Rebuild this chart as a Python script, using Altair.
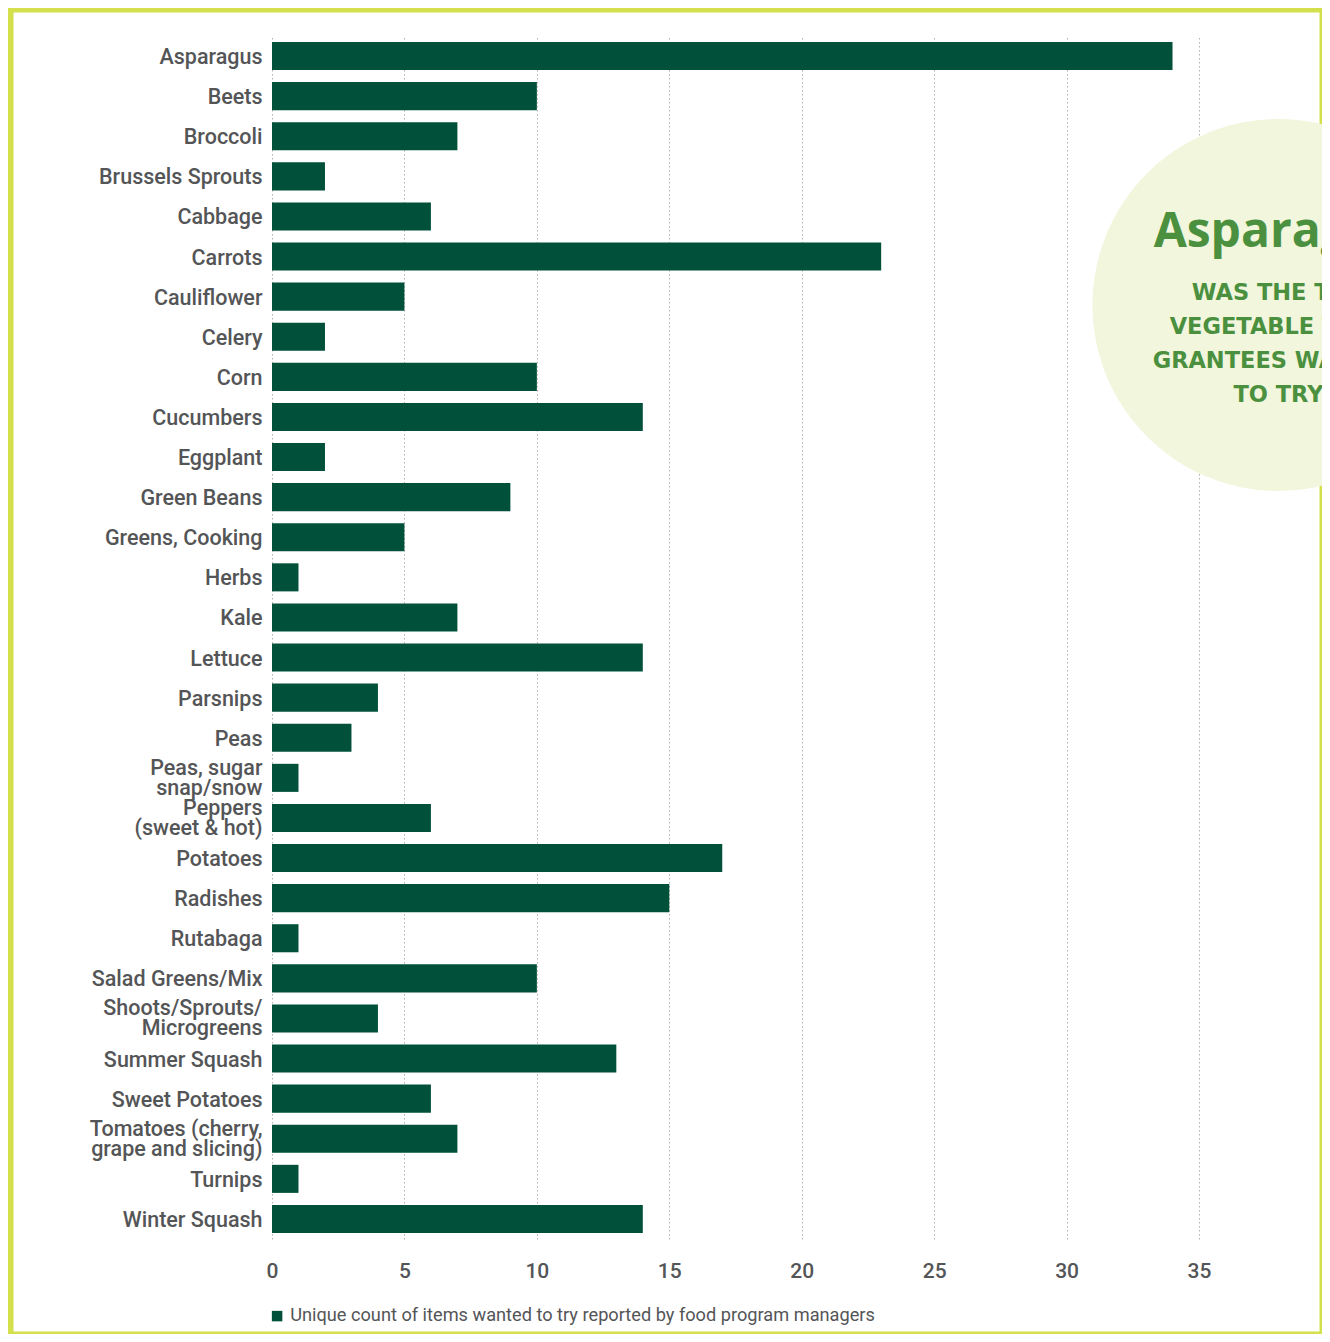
import altair as alt
import pandas as pd

vegetables = [
    "Asparagus", "Beets", "Broccoli", "Brussels Sprouts", "Cabbage", "Carrots",
    "Cauliflower", "Celery", "Corn", "Cucumbers", "Eggplant", "Green Beans",
    "Greens, Cooking", "Herbs", "Kale", "Lettuce", "Parsnips", "Peas",
    "Peas, sugar \nsnap/snow", "Peppers \n(sweet & hot)", "Potatoes", "Radishes",
    "Rutabaga", "Salad Greens/Mix", "Shoots/Sprouts/\nMicrogreens", "Summer Squash",
    "Sweet Potatoes", "Tomatoes (cherry,\ngrape and slicing)", "Turnips", "Winter Squash",
]
counts = [34, 10, 7, 2, 6, 23, 5, 2, 10, 14, 2, 9, 5, 1, 7, 14, 4, 3, 1, 6,
          17, 15, 1, 10, 4, 13, 6, 7, 1, 14]
series_name = "Unique count of items wanted to try reported by food program managers"
x_ticks = [0, 5, 10, 15, 20, 25, 30, 35]

callout_head = "Asparagus"
callout_lines = ["WAS THE TOP", "VEGETABLE THAT", "GRANTEES WANTED", "TO TRY"]
callout_x = [38]

BAR = "#00503a"
FRAME = "#d3df4b"
CIRCLE = "#f1f6dc"
CALLOUT = "#4b903f"
LABEL = "#545557"

W, H = 927, 1203
PL, PT, PR, PB = 264, 28, 123, 95

df = pd.DataFrame({"veg": vegetables, "count": counts, "series": series_name})

bars = alt.Chart(df).mark_bar(color=BAR).encode(
    x=alt.X("count:Q",
            scale=alt.Scale(domain=[0, 35], nice=False),
            axis=alt.Axis(values=x_ticks, grid=True, gridDash=[1.5, 2.5],
                          gridColor="#b0b0b0", gridWidth=1, domain=False,
                          ticks=False, labelFontSize=21, labelFont="Roboto",
                          labelFontWeight=500, labelFlush=False,
                          labelColor=LABEL, labelPadding=21, title=None)),
    y=alt.Y("veg:N", sort=vegetables,
            scale=alt.Scale(paddingInner=0.3, paddingOuter=0.15),
            axis=alt.Axis(title=None, domain=False, ticks=False,
                          labelExpr="split(datum.label, '\\n')",
                          labelLineHeight=20, labelPadding=10,
                          labelOffset={"condition": {"test": "indexof(datum.value, '\\n') >= 0",
                                                     "value": -9},
                                       "value": 2},
                          labelFontSize=21.5, labelFont="Roboto",
                          labelFontWeight=500,
                          labelColor=LABEL, labelLimit=400)),
    color=alt.Color("series:N", scale=alt.Scale(range=[BAR]),
                    legend=alt.Legend(orient="none", legendX=-4, legendY=1271,
                                      title=None, symbolType="square",
                                      symbolSize=110, symbolStrokeWidth=0,
                                      labelFontSize=18.2, labelFont="Roboto",
                                      labelColor=LABEL, labelOffset=4,
                                      labelLimit=1000)),
)

frame = alt.Chart(pd.DataFrame({"a": [0]})).mark_rect(
    fillOpacity=0, stroke=FRAME, strokeWidth=9
).encode(
    x=alt.value(-PL + 1), x2=alt.value(W + PR + 2),
    y=alt.value(-PT), y2=alt.value(H + PB + 2),
)

cdf = pd.DataFrame({"cx": callout_x, "head": [callout_head],
                    "body": ["\n".join(callout_lines)]})

circle = alt.Chart(cdf).mark_circle(size=372 * 372, color=CIRCLE, opacity=1).encode(
    x="cx:Q", y=alt.value(269)
)

head = alt.Chart(cdf).mark_text(
    font="Open Sans", fontWeight="bold", fontSize=48, color=CALLOUT,
    align="center", baseline="alphabetic"
).encode(x="cx:Q", y=alt.value(211), text="head:N")

body = alt.Chart(cdf).mark_text(
    font="DejaVu Sans", fontWeight="bold", fontSize=22.5, color=CALLOUT,
    align="center", baseline="middle", lineBreak="\n", lineHeight=34
).encode(x="cx:Q", y=alt.value(257), text="body:N")

chart = alt.layer(frame, bars, circle, head, body).properties(
    width=W, height=H,
    autosize=alt.AutoSizeParams(type="none"),
    padding={"left": PL, "top": PT, "right": PR, "bottom": PB},
    background="white",
).configure_view(stroke=None)

chart.save("out.html", embed_options={"renderer": "svg", "actions": False})
